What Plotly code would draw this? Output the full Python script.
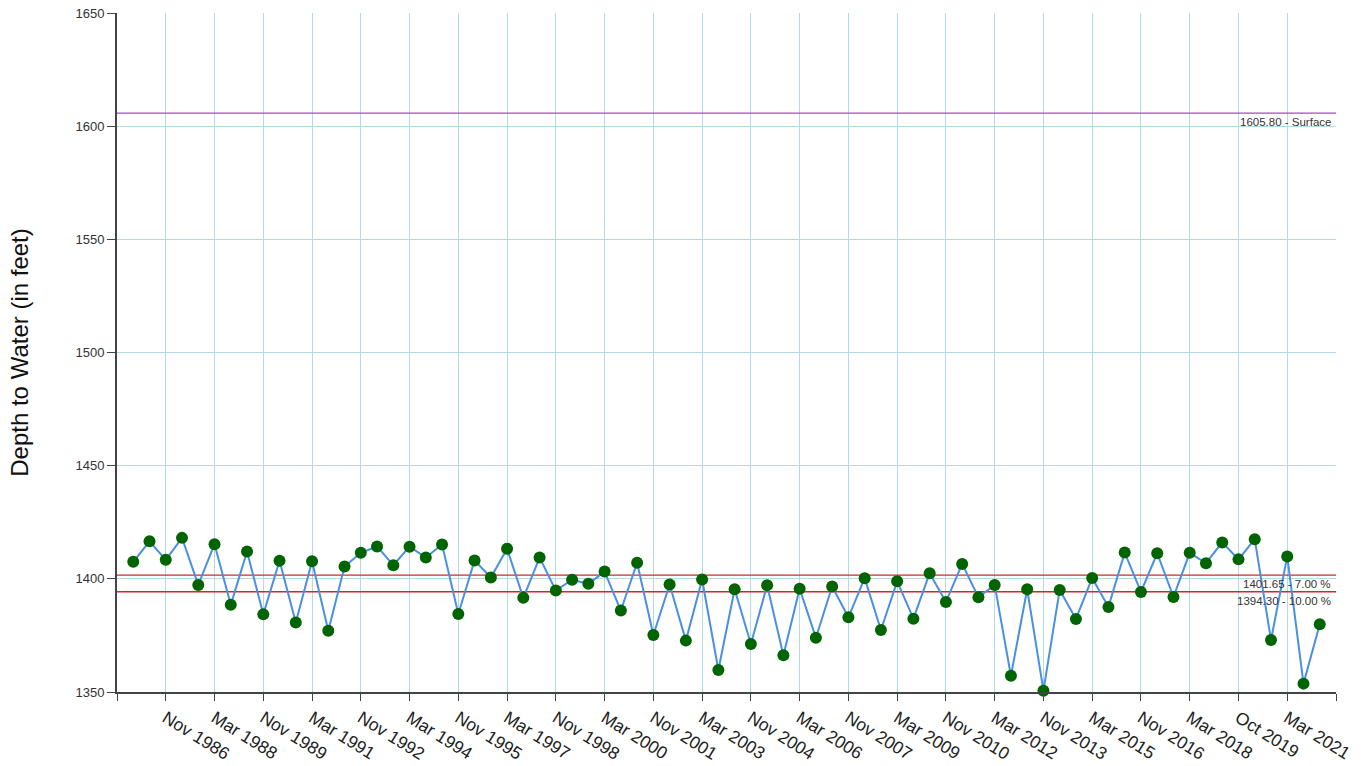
import plotly.graph_objects as go

# semi-annual measurements (index positions), tick label every 3rd point
depth_values = [
    1407.5, 1416.6, 1408.4, 1418.1, 1397.3, 1415.3, 1388.5, 1412.1, 1384.3, 1408.0,
    1380.7, 1407.8, 1377.1, 1405.4, 1411.5, 1414.3, 1406.0, 1414.2, 1409.4, 1415.2,
    1384.5, 1408.1, 1400.6, 1413.3, 1391.6, 1409.4, 1394.8, 1399.6, 1397.8, 1403.2,
    1386.0, 1407.1, 1375.2, 1397.5, 1372.7, 1399.7, 1359.7, 1395.4, 1371.2, 1397.2,
    1366.2, 1395.6, 1374.0, 1396.6, 1383.0, 1400.3, 1377.4, 1398.9, 1382.4, 1402.5,
    1389.8, 1406.6, 1391.9, 1397.3, 1357.2, 1395.4, 1350.6, 1395.1, 1382.3, 1400.4,
    1387.6, 1411.6, 1394.2, 1411.3, 1392.0, 1411.5, 1406.9, 1416.1, 1408.6, 1417.5,
    1373.0, 1409.9, 1353.7, 1379.9,
]

tick_labels = [
    "Nov 1986", "Mar 1988", "Nov 1989", "Mar 1991", "Nov 1992", "Mar 1994",
    "Nov 1995", "Mar 1997", "Nov 1998", "Mar 2000", "Nov 2001", "Mar 2003",
    "Nov 2004", "Mar 2006", "Nov 2007", "Mar 2009", "Nov 2010", "Mar 2012",
    "Nov 2013", "Mar 2015", "Nov 2016", "Mar 2018", "Oct 2019", "Mar 2021",
]

surface_level = 1605.80
pct7_level = 1401.65
pct10_level = 1394.30

n = len(depth_values)
x_idx = list(range(n))
tick_pos = [-1] + [2 + 3 * k for k in range(len(tick_labels))] + [n]
tick_txt = [""] + tick_labels + [""]

fig = go.Figure()

for lvl, col in [(surface_level, "#9b4fc0"), (pct7_level, "#d62728"), (pct10_level, "#d62728")]:
    fig.add_trace(go.Scatter(
        x=[-1, n], y=[lvl, lvl], mode="lines",
        line=dict(color=col, width=1.3), hoverinfo="skip", showlegend=False,
    ))

fig.add_trace(go.Scatter(
    x=x_idx, y=depth_values, mode="lines+markers",
    line=dict(color="#4a90e2", width=2),
    marker=dict(color="#006400", size=12),
    cliponaxis=False,
    showlegend=False,
))

ann_font = dict(family="Liberation Sans, Arial, sans-serif", size=11.5, color="#333")
for lvl, txt in [(surface_level, "1605.80 - Surface"),
                 (pct7_level, "1401.65 - 7.00 %"),
                 (pct10_level, "1394.30 - 10.00 %")]:
    fig.add_annotation(
        x=0.9975, xref="paper", y=lvl, yref="y", text=txt, showarrow=False,
        xanchor="right", yanchor="top", yshift=-1, font=ann_font,
    )

fig.update_layout(
    width=1370, height=766,
    margin=dict(l=117, r=34, t=13, b=74),
    plot_bgcolor="white", paper_bgcolor="white",
    font=dict(family="Liberation Sans, Arial, sans-serif", color="#333"),
    xaxis=dict(
        range=[-1, n], tickmode="array", tickvals=tick_pos, ticktext=tick_txt,
        tickangle=32, tickfont=dict(size=17.5, color="#222"),
        showgrid=True, gridcolor="#b3dbe6", gridwidth=1,
        showline=True, linecolor="#444", linewidth=2,
        ticks="outside", ticklen=7, tickcolor="#444", zeroline=False,
        automargin=False, ticklabeloverflow="allow",
    ),
    yaxis=dict(
        range=[1350, 1650], tickvals=[1350, 1400, 1450, 1500, 1550, 1600, 1650],
        tickfont=dict(size=13, color="#333"),
        showgrid=True, gridcolor="#b3dbe6", gridwidth=1,
        showline=True, linecolor="#444", linewidth=2,
        ticks="outside", ticklen=8, tickcolor="#444", zeroline=False,
        automargin=False, ticklabeloverflow="allow",
        title=dict(text="Depth to Water (in feet)", font=dict(size=24, color="#111"), standoff=40),
    ),
)

fig.write_html("out.html", config={"displayModeBar": False},
               post_script="document.body.style.margin='0';")
